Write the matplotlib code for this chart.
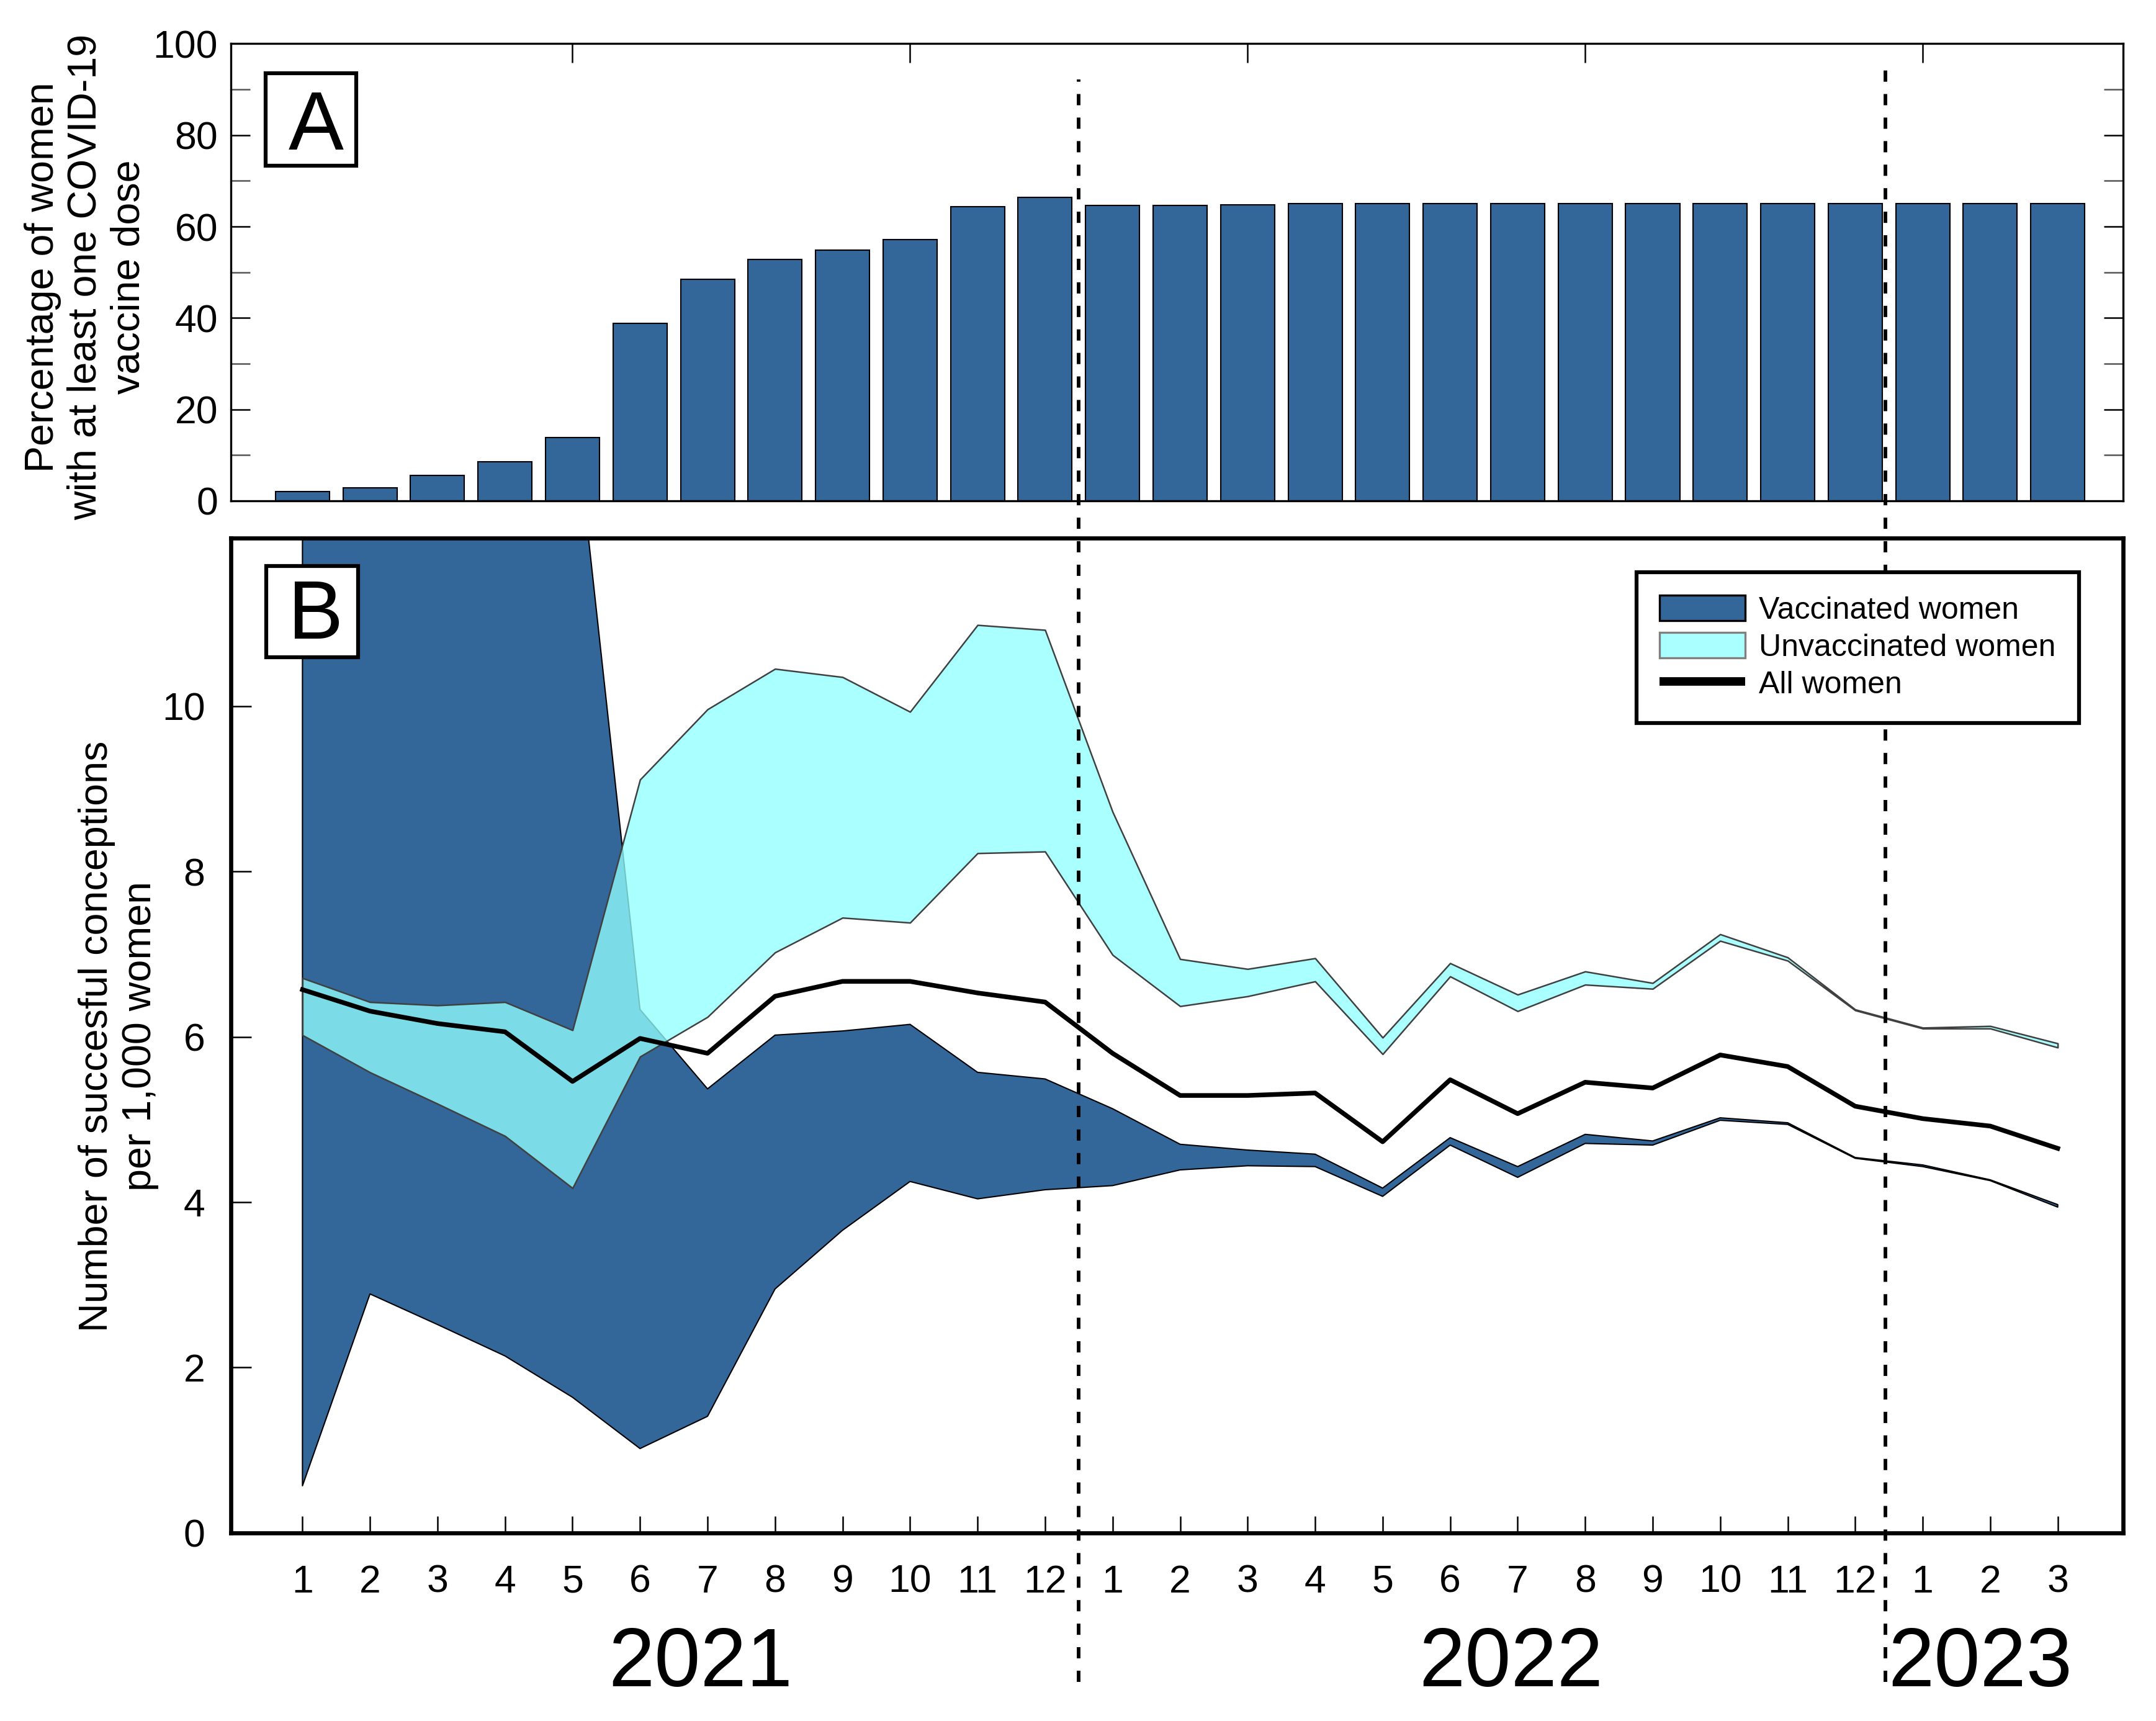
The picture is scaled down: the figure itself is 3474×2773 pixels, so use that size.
import numpy as np
import matplotlib.pyplot as plt
import matplotlib.transforms as mtransforms
from matplotlib.patches import Patch, Rectangle
from matplotlib.lines import Line2D

plt.rcParams['font.family'] = ['Liberation Sans', 'DejaVu Sans']

# months Jan 2021 .. Mar 2023
month_labels = [str(m) for m in range(1, 13)] * 2 + ["1", "2", "3"]
years = ["2021", "2022", "2023"]

# panel A: % of women with at least one vaccine dose
vacc_pct = [2.0, 2.9, 5.6, 8.6, 13.8, 38.8, 48.5, 52.8, 54.9, 57.1, 64.4, 66.4,
            64.6, 64.6, 64.8, 65.0, 65.0, 65.0, 65.0, 65.0, 65.0, 65.0, 65.0, 65.0,
            65.0, 65.0, 65.0]

# panel B: conceptions per 1,000 women (band limits)
vacc_low = [0.57, 2.89, 2.52, 2.14, 1.64, 1.02, 1.41, 2.95, 3.66, 4.25, 4.04, 4.15,
            4.20, 4.39, 4.44, 4.43, 4.07, 4.69, 4.30, 4.71, 4.69, 4.99, 4.94, 4.53,
            4.43, 4.26, 3.94]
vacc_high = [25.0, 20.0, 17.0, 15.5, 13.8, 6.33, 5.37, 6.02, 6.07, 6.15, 5.57, 5.49,
             5.13, 4.70, 4.63, 4.58, 4.17, 4.78, 4.43, 4.82, 4.74, 5.02, 4.96, 4.54,
             4.45, 4.27, 3.97]
unvacc_low = [6.02, 5.57, 5.19, 4.80, 4.17, 5.76, 6.24, 7.02, 7.44, 7.38, 8.22, 8.24,
              6.99, 6.37, 6.49, 6.67, 5.79, 6.73, 6.31, 6.63, 6.58, 7.16, 6.92, 6.32,
              6.10, 6.10, 5.87]
unvacc_high = [6.71, 6.42, 6.38, 6.42, 6.08, 9.11, 9.96, 10.45, 10.35, 9.93, 10.98, 10.92,
               8.72, 6.94, 6.82, 6.95, 5.99, 6.89, 6.51, 6.79, 6.65, 7.24, 6.96, 6.33,
               6.11, 6.13, 5.92]
all_women = [6.57, 6.31, 6.16, 6.06, 5.46, 5.98, 5.80, 6.49, 6.67, 6.67, 6.53, 6.42,
             5.80, 5.29, 5.29, 5.32, 4.73, 5.48, 5.07, 5.45, 5.38, 5.78, 5.64, 5.16,
             5.01, 4.92, 4.65]

x = np.arange(1, len(month_labels) + 1)

BLUE = '#336699'
CYAN = (145 / 255, 1.0, 1.0, 0.77)

fig = plt.figure(figsize=(3474 / 300, 2773 / 300), dpi=300)
axA = fig.add_axes([0.1071, 0.7090, 0.8777, 0.2656])
axB = fig.add_axes([0.1071, 0.1093, 0.8777, 0.5780])

# ---- panel A
axA.bar(x, vacc_pct, width=0.8, color=BLUE, edgecolor='black', linewidth=0.5)
axA.set_xlim(-0.06, 27.97)
axA.set_ylim(0, 100)
axA.set_yticks(range(0, 101, 20))
axA.set_yticks(range(10, 100, 20), minor=True)
axA.set_xticks([5, 10, 15, 20, 25])
axA.tick_params(axis='x', bottom=False, labelbottom=False, top=True,
                direction='in', length=7.5, width=0.6)
axA.tick_params(axis='y', which='both', direction='in', length=7.5, width=0.6,
                left=True, right=True, labelsize=15, pad=5)
axA.tick_params(axis='y', which='minor', colors='#555555')
for s in axA.spines.values():
    s.set_linewidth(0.8)

axA.add_patch(Rectangle((0.0184, 0.7334), 0.0479, 0.2021, transform=axA.transAxes,
                        facecolor='white', edgecolor='black', lw=1.5, zorder=5))
axA.text(0.045, 0.7687, "A", transform=axA.transAxes, fontsize=32,
         ha='center', va='baseline', zorder=6)

fig.text(0.0397, 0.839, "Percentage of women\nwith at least one COVID-19\nvaccine dose",
         rotation=90, ha='center', va='center', fontsize=15.5, linespacing=1.2)

# ---- panel B
axB.fill_between(x, vacc_low, vacc_high, facecolor=BLUE, edgecolor='black',
                 linewidth=0.5, zorder=1)
axB.fill_between(x, unvacc_low, unvacc_high, facecolor=CYAN, edgecolor='#404040',
                 linewidth=0.6, zorder=2)
axB.plot(x, all_women, color='black', lw=1.8, zorder=3)

axB.set_xlim(-0.06, 27.97)
axB.set_ylim(0, 12.03)
axB.set_yticks(range(0, 11, 2))
axB.set_xticks(x)
axB.set_xticklabels(month_labels)
axB.tick_params(axis='y', direction='in', length=8, width=0.6, labelsize=15, pad=10)
axB.tick_params(axis='x', direction='in', length=6.5, width=0.6, labelsize=15, pad=12)
for s in axB.spines.values():
    s.set_linewidth(1.6)

axB.add_patch(Rectangle((0.0187, 0.880), 0.0485, 0.0917, transform=axB.transAxes,
                        facecolor='white', edgecolor='black', lw=1.5, zorder=5))
axB.text(0.0449, 0.899, "B", transform=axB.transAxes, fontsize=32,
         ha='center', va='baseline', zorder=6)

fig.text(0.055, 0.398, "Number of succesful conceptions\nper 1,000 women",
         rotation=90, ha='center', va='center', fontsize=15.5, linespacing=1.2)

# year labels and year separators spanning both panels
trans = mtransforms.blended_transform_factory(axB.transData, fig.transFigure)
for xp, yr in zip([6.9, 18.9, 25.85], years):
    fig.text(xp, 0.0202, yr, transform=trans, fontsize=32, ha='center', va='baseline')
for xp, ytop in [(12.5, 0.954), (24.45, 0.961)]:
    fig.add_artist(Line2D([xp, xp], [0.0227, ytop], transform=trans, color='black',
                          lw=1.4, linestyle=(0, (3.1, 3.4)), zorder=10))

# legend on the figure so it covers the separator line
handles = [Patch(facecolor=BLUE, edgecolor='black', lw=0.8),
           Patch(facecolor=(170 / 255, 1.0, 1.0), edgecolor='gray', lw=0.8),
           Line2D([], [], color='black', lw=3.3, solid_capstyle='butt')]
leg = fig.legend(handles, ["Vaccinated women", "Unvaccinated women", "All women"],
                 loc='upper right', bbox_to_anchor=(0.9767, 0.966),
                 bbox_transform=axB.transAxes, fontsize=12,
                 fancybox=False, edgecolor='black', framealpha=1,
                 handlelength=2.75, handleheight=0.88, handletextpad=0.45,
                 labelspacing=0.25, borderpad=0.75, borderaxespad=0)
leg.get_frame().set_linewidth(1.5)
leg.set_zorder(20)

fig.savefig('out.png', dpi=300)
